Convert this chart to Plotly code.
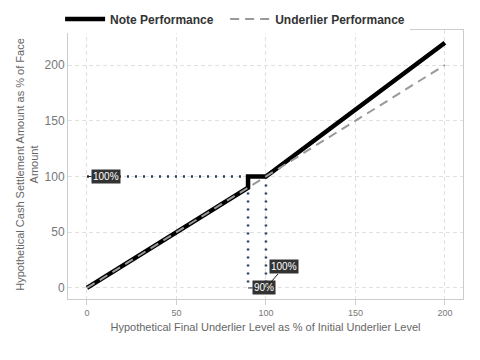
import plotly.graph_objects as go

note_x = [0, 90, 90, 100, 200]
note_y = [0, 90, 100, 100, 220]
under_x = [0, 200]
under_y = [0, 200]

guide_h_x = [0, 100]
guide_h_y = [100, 100]
guide_v1_x = [90, 90]
guide_v1_y = [100, 0]
guide_v2_x = [100, 100]
guide_v2_y = [100, 0]

ann_labels = ["100%", "90%", "100%"]
ann_x = [0, 90, 100]
ann_y = [100, 0, 0]

fig = go.Figure()
dot_color = "#2a3f5f"
for gx, gy in [(guide_h_x, guide_h_y), (guide_v1_x, guide_v1_y), (guide_v2_x, guide_v2_y)]:
    fig.add_trace(go.Scatter(x=gx, y=gy, mode="lines", showlegend=False, hoverinfo="skip",
                             line=dict(color=dot_color, width=2.5, dash="2px,6px")))

fig.add_trace(go.Scatter(x=note_x, y=note_y, mode="lines",
                         name="<b>Note Performance</b>&nbsp;&nbsp;",
                         line=dict(color="black", width=4.5)))
fig.add_trace(go.Scatter(x=under_x, y=under_y, mode="lines", name="<b>Underlier Performance</b>",
                         line=dict(color="#999999", width=2, dash="9px,6px")))

offsets = [(19, 0), (16, 0), (18, -21)]
for t, x, y, (ax, ay) in zip(ann_labels, ann_x, ann_y, offsets):
    fig.add_annotation(x=x, y=y, text=t, showarrow=True, arrowhead=0, arrowwidth=1,
                       arrowcolor="#222", ax=ax, ay=ay, bgcolor="#333333",
                       font=dict(color="white", size=10), borderpad=1)

axis_common = dict(showgrid=True, gridcolor="#e0e0e0", griddash="4px,3px", zeroline=False,
                   showline=True, linecolor="#cccccc", mirror=True, linewidth=1,
                   automargin=False,
                   title_font=dict(size=11, color="#666666"))

fig.update_layout(
    width=480, height=360, template="plotly_white",
    font=dict(family="Liberation Sans, Arial, sans-serif"),
    margin=dict(l=60, r=25, t=22, b=69, autoexpand=False),
    plot_bgcolor="white", paper_bgcolor="white",
    legend=dict(orientation="h", x=-0.02, xanchor="left", y=1.041, yanchor="middle",
                itemwidth=40, tracegroupgap=0, font=dict(size=12, color="#333333")),
    xaxis=dict(range=[-10.6, 210.1], tickvals=[0, 50, 100, 150, 200],
               ticks="outside", ticklen=5, tickcolor="#cccccc",
               tickfont=dict(size=9, color="#777777"),
               title_text="Hypothetical Final Underlier Level as % of Initial Underlier Level",
               title_standoff=6, **axis_common),
    yaxis=dict(range=[-9.9, 231.4], tickvals=[0, 50, 100, 150, 200],
               ticks="", tickfont=dict(size=12, color="#777777"),
               title_text="Hypothetical Cash Settlement Amount as % of Face<br>Amount",
               title_standoff=3, **axis_common),
)
fig.write_html("out.html")
